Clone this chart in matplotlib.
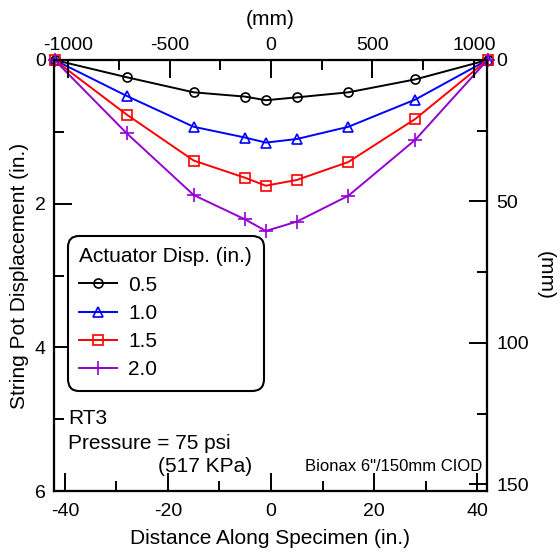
import matplotlib
matplotlib.use("Agg")
import matplotlib.pyplot as plt
import numpy as np

plt.rcParams['font.family'] = ['Liberation Sans', 'DejaVu Sans']
plt.rcParams['axes.unicode_minus'] = False

x_in = [-42, -28, -15, -5, -1, 5, 15, 28, 42]
disp_05 = [0, 0.24, 0.45, 0.51, 0.56, 0.52, 0.45, 0.27, 0]
disp_10 = [0, 0.50, 0.93, 1.08, 1.15, 1.10, 0.93, 0.55, 0]
disp_15 = [0, 0.76, 1.40, 1.64, 1.75, 1.67, 1.42, 0.82, 0]
disp_20 = [0, 1.02, 1.88, 2.22, 2.38, 2.25, 1.89, 1.11, 0]
labels = ['0.5', '1.0', '1.5', '2.0']
colors = ['black', '#0000FF', '#FF0000', '#9400D3']
markers = ['o', '^', 's', '+']

IN2MM = 25.4

fig = plt.figure(figsize=(5.6, 5.54), dpi=100)
ax = fig.add_axes([54/560, 1-491/554, 433/560, 431/554])

series = [disp_05, disp_10, disp_15, disp_20]
for ys, lab, c, m in zip(series, labels, colors, markers):
    ms = 10 if m == '+' else 6.5
    ax.plot(x_in, ys, color=c, lw=1.4, marker=m, ms=ms, mfc='none', mec=c,
            mew=1.2, label=lab, clip_on=False, zorder=3)

ax.set_xlim(-42.1, 41.9)
ax.set_ylim(6, 0)

for s in ax.spines.values():
    s.set_linewidth(1.5)

ax.set_xticks([-40, -20, 0, 20, 40])
ax.set_xticks([-30, -10, 10, 30], minor=True)
ax.set_yticks([0, 2, 4, 6])
ax.set_yticks([1, 3, 5], minor=True)
ax.tick_params(which='both', direction='in', width=1.4, labelsize=14)
ax.tick_params(which='major', length=13)
ax.tick_params(axis='x', which='major', pad=9)
ax.tick_params(axis='y', which='major', pad=6)
ax.tick_params(which='minor', length=7)
ax.set_xlabel('Distance Along Specimen (in.)', fontsize=15, labelpad=6)
ax.set_ylabel('String Pot Displacement (in.)', fontsize=15, labelpad=4)

# top axis in mm
axt = ax.twiny()
axt.set_xlim(np.array(ax.get_xlim()) * IN2MM)
axt.set_xticks([-1000, -500, 0, 500, 1000])
axt.set_xticks([-750, -250, 250, 750], minor=True)
axt.tick_params(which='both', direction='in', width=1.4, labelsize=14)
axt.tick_params(which='major', length=13, pad=4)
axt.tick_params(which='minor', length=7)
axt.set_xlabel('(mm)', fontsize=15, labelpad=9)

# right axis in mm
axr = ax.twinx()
axr.set_ylim(np.array(ax.get_ylim()) * IN2MM)
axr.set_yticks([0, 50, 100, 150])
axr.set_yticks([25, 75, 125], minor=True)
axr.tick_params(which='both', direction='in', width=1.4, labelsize=14)
axr.tick_params(which='major', length=13, pad=7)
axr.tick_params(which='minor', length=7)
axr.set_ylabel('(mm)', fontsize=15, rotation=-90, labelpad=18)
for a in (axt, axr):
    for s in a.spines.values():
        s.set_linewidth(1.5)

leg = ax.legend(title='Actuator Disp. (in.)', loc='upper left',
                bbox_to_anchor=(0.032, 0.5916), borderaxespad=0,
                fontsize=15, title_fontsize=15,
                frameon=True, fancybox=True, edgecolor='black',
                framealpha=1, handlelength=1.8, labelspacing=0.44,
                borderpad=0.55, handletextpad=0.55)
leg.get_frame().set_linewidth(1.5)
leg.get_frame().set_boxstyle('round,pad=0,rounding_size=0.55')
leg._legend_box.align = 'left'
leg.set_zorder(5)

ax.text(0.032, 0.169, 'RT3', transform=ax.transAxes, fontsize=15, va='center')
ax.text(0.032, 0.111, 'Pressure = 75 psi', transform=ax.transAxes, fontsize=15, va='center')
ax.text(0.24, 0.056, '(517 KPa)', transform=ax.transAxes, fontsize=15, va='center')
ax.text(0.99, 0.056, 'Bionax 6"/150mm CIOD', transform=ax.transAxes, fontsize=12,
        va='center', ha='right')

fig.savefig('out.png', dpi=100)
